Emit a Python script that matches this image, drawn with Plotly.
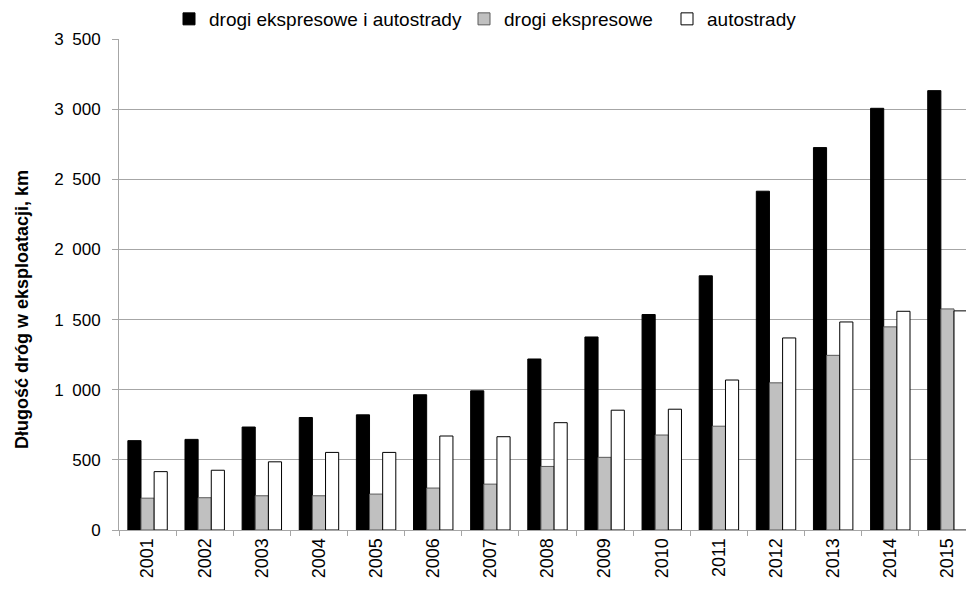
import plotly.graph_objects as go

# Długość dróg szybkiego ruchu w eksploatacji (km), 2001–2015
years = ["2001", "2002", "2003", "2004", "2005", "2006", "2007", "2008",
         "2009", "2010", "2011", "2012", "2013", "2014", "2015"]
razem = [637, 646, 734, 802, 821, 964, 992, 1219, 1376, 1536, 1812, 2415, 2726, 3006, 3132]
ekspresowe = [227, 230, 244, 244, 256, 299, 327, 453, 518, 677, 740, 1049, 1245, 1448, 1576]
autostrady = [416, 426, 486, 553, 553, 670, 665, 765, 854, 861, 1069, 1369, 1483, 1559, 1562]

y_ticks = [0, 500, 1000, 1500, 2000, 2500, 3000, 3500]
y_tick_text = ["0", "500", "1\u2002000", "1\u2002500", "2\u2002000",
               "2\u2002500", "3\u2002000", "3\u2002500"]

FONT = "Liberation Sans, Arial, sans-serif"
GRID = "#a6a6a6"
W, H = 966, 592

fig = go.Figure()
fig.add_trace(go.Bar(x=years, y=razem, name="drogi ekspresowe i autostrady", legend="legend",
                     marker=dict(color="#000000", line=dict(color="#000000", width=1))))
fig.add_trace(go.Bar(x=years, y=ekspresowe, name="drogi ekspresowe", legend="legend2",
                     marker=dict(color="#c0c0c0", line=dict(color="#5a5a5a", width=1))))
fig.add_trace(go.Bar(x=years, y=autostrady, name="autostrady", legend="legend3",
                     marker=dict(color="#ffffff", line=dict(color="#000000", width=1))))


def legend_box(left_px):
    return dict(orientation="h", xref="container", yref="container",
                x=left_px / W, xanchor="left", y=1 - 19 / H, yanchor="middle",
                font=dict(size=19, family=FONT), bgcolor="rgba(0,0,0,0)",
                borderwidth=0)


fig.update_layout(
    width=W, height=H,
    margin=dict(l=119, r=0, t=39, b=62, autoexpand=False),
    paper_bgcolor="white", plot_bgcolor="white",
    barmode="group", bargap=0.31, bargroupgap=0,
    font=dict(family=FONT, size=18, color="#000000"),
    showlegend=True,
    legend=legend_box(169),
    legend2=legend_box(464),
    legend3=legend_box(667),
    annotations=[dict(text="<b>Długość dróg w eksploatacji, km</b>",
                      xref="paper", yref="paper",
                      x=(22 - 119) / 847, y=(530 - 310) / 491, textangle=-90,
                      showarrow=False, font=dict(size=18, family=FONT),
                      xanchor="center", yanchor="middle")],
)

fig.update_xaxes(
    type="category", range=[-0.5, 14.325],
    showline=True, linecolor=GRID, linewidth=1,
    ticks="outside", tickson="boundaries", ticklen=5, tickcolor=GRID,
    tickangle=-90, showgrid=False, tickfont=dict(size=18),
)
fig.update_yaxes(
    range=[0, 3500], tickvals=y_ticks, ticktext=y_tick_text,
    showline=True, linecolor=GRID, linewidth=1,
    ticks="outside", ticklen=6, tickcolor=GRID,
    showgrid=True, gridcolor=GRID, gridwidth=1, zeroline=False,
    tickfont=dict(size=17), ticklabelstandoff=8,
)

fig.write_html("out.html")
